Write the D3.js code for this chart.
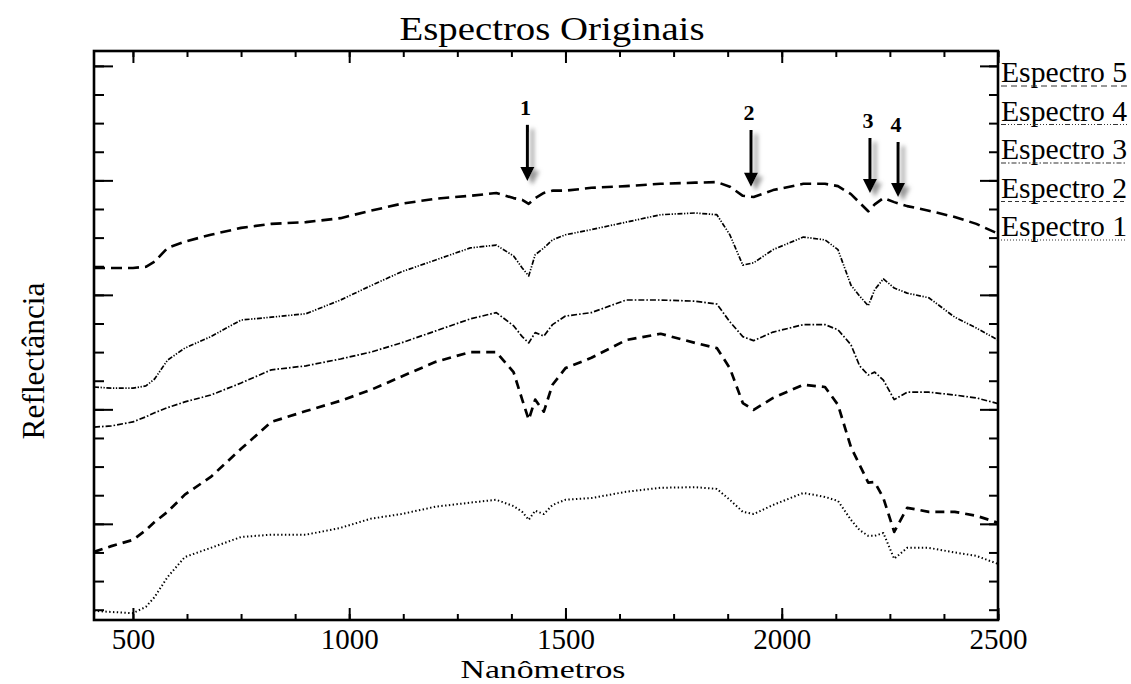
<!DOCTYPE html>
<html><head><meta charset="utf-8">
<script src="https://cdn.jsdelivr.net/npm/d3@7"></script>
<style>
body{margin:0;background:#fff}
svg{display:block}
svg text{font-family:"Liberation Serif","Times New Roman",Times,"DejaVu Serif",serif !important;fill:#000}
</style>
</head><body>
<svg id="chart" width="1131" height="684" font-family="Liberation Serif, Times New Roman, serif"></svg>
<script>
// ---- data ----
const wavelengths=[410,450,500,530,550,580,620,680,750,820,900,980,1050,1120,1200,1280,1340,1380,1400,1415,1430,1450,1470,1500,1560,1640,1720,1800,1850,1880,1910,1935,1980,2050,2100,2130,2160,2180,2200,2215,2235,2260,2290,2340,2400,2450,2500];
const espectro5=[64.7,64.7,64.7,64.9,65.8,68.2,69.3,70.5,71.7,72.4,72.7,73.4,74.7,75.9,76.8,77.3,77.8,76.9,76.6,75.9,76.9,77.8,78.2,78.2,78.7,79.0,79.4,79.6,79.7,78.9,77.3,77.1,78.3,79.4,79.4,79.0,77.6,76.1,74.6,75.8,76.9,76.2,75.5,74.7,73.6,72.4,70.7];
const espectro4=[43.9,43.7,43.7,44.1,45.3,48.6,50.7,52.7,55.6,56.1,56.7,59.1,61.6,64.0,66.1,68.2,68.7,66.8,64.7,63.3,67.0,68.2,69.6,70.5,71.4,72.7,74.0,74.3,74.0,70.5,65.2,65.6,67.9,70.1,69.6,67.9,61.7,59.8,58.1,60.9,62.8,61.2,60.3,59.5,56.1,54.2,52.1];
const espectro3=[36.9,37.1,37.8,38.7,39.4,40.3,41.3,42.5,44.6,46.9,47.6,48.8,50.0,51.6,53.7,55.8,56.9,54.6,52.7,51.6,53.4,52.8,54.8,56.3,56.9,59.1,59.1,58.9,58.4,55.3,52.7,52.0,53.5,54.8,54.8,53.9,51.3,47.6,46.0,46.5,45.1,41.7,43.0,43.0,42.5,42.0,41.0];
const espectro2=[15.1,16.1,17.2,18.9,20.3,22.1,25.1,28.2,33.1,37.8,39.7,41.5,43.4,45.7,48.3,50.0,50.0,46.5,41.7,38.2,41.7,39.6,44.3,47.2,49.0,52.1,53.2,51.6,50.7,47.2,41.1,39.9,42.0,44.3,43.9,40.8,33.4,30.3,27.2,27.3,24.5,18.6,22.8,22.1,22.1,21.4,20.2];
const espectro1=[4.8,4.6,4.4,5.5,7.2,10.7,14.2,15.8,17.7,18.1,18.1,19.3,20.9,21.7,23.0,23.7,24.2,23.1,22.1,20.7,22.3,21.7,23.3,24.2,24.5,25.6,26.3,26.4,26.1,24.2,22.1,21.7,23.3,25.4,24.7,24.0,20.7,18.9,17.9,17.9,18.4,13.9,15.8,15.8,15.0,14.4,13.0];
const seriesNames=["Espectro 5","Espectro 4","Espectro 3","Espectro 2","Espectro 1"];
const seriesValues=[espectro5,espectro4,espectro3,espectro2,espectro1];
const xMajorTicks=[500,1000,1500,2000,2500];
const xTickLabels=["500","1000","1500","2000","2500"];
const arrowLabels=["1","2","3","4"];
const arrowWavelengths=[1412,1929,2204,2269];
const arrowTips=[79.9,78.9,77.8,77.1];
const arrowTails=[89.7,88.8,87.4,86.7];
const titleText="Espectros Originais";
const xLabelText="Nanômetros";
const yLabelText="Reflectância";

// ---- styles ----
const FONT="Liberation Serif, Times New Roman, Times, DejaVu Serif, serif";
const lineStyles=[
  {w:2.6,dash:"11,6"},
  {w:1.7,dash:"5,1.6,1.3,1.6,1.3,1.6"},
  {w:1.7,dash:"6,2,1.6,2"},
  {w:2.7,dash:"9,6"},
  {w:2.0,dash:"1.4,2.4"}
];
const legendStyles=["6,4","5,2,1,2,1,2,1,2","5,2,1.5,2","4,3","1,2"];

const svg=d3.select("#chart");
const L=94,R=998,T=51,B=620;
const x=d3.scaleLinear().domain([410,2500]).range([L,R]);
const y=d3.scaleLinear().domain([3.2,102.6]).range([B,T]);

// drop shadow for arrows
const defs=svg.append("defs");
const f=defs.append("filter").attr("id","sh").attr("x","-100%").attr("y","-50%").attr("width","300%").attr("height","200%");
f.append("feDropShadow").attr("dx",5).attr("dy",4).attr("stdDeviation",2.2).attr("flood-color","#777").attr("flood-opacity",0.75);

// series
const line=d3.line().x((d,i)=>x(wavelengths[i])).y(d=>y(d));
svg.append("g").selectAll("path").data(seriesValues).join("path")
  .attr("d",d=>line(d)).attr("fill","none").attr("stroke","#000")
  .attr("stroke-width",(d,i)=>lineStyles[i].w)
  .attr("stroke-dasharray",(d,i)=>lineStyles[i].dash)
  .attr("stroke-linejoin","round");

// axes ticks (inward) via d3 axes
const xMinor=d3.range(500,2501,125);
const yMinor=d3.range(5,101,5);
const yMajor=yMinor.filter(v=>v%20===0);
function clean(g){g.select(".domain").remove();g.attr("font-family",FONT);g.selectAll("line").attr("stroke","#000").attr("stroke-width",2);}
svg.append("g").attr("transform",`translate(0,${B})`).call(d3.axisBottom(x).tickValues(xMinor).tickSize(-6).tickFormat("")).call(clean);
svg.append("g").attr("transform",`translate(0,${T})`).call(d3.axisTop(x).tickValues(xMinor).tickSize(-6).tickFormat("")).call(clean);
const xb=svg.append("g").attr("transform",`translate(0,${B})`).call(d3.axisBottom(x).tickValues(xMajorTicks).tickSize(-12).tickFormat((d,i)=>xTickLabels[i])).call(clean);
xb.selectAll("text").attr("y",29).attr("dy",0).attr("font-size",29).attr("font-family",FONT).attr("fill","#000");
svg.append("g").attr("transform",`translate(0,${T})`).call(d3.axisTop(x).tickValues(xMajorTicks).tickSize(-12).tickFormat("")).call(clean);
svg.append("g").attr("transform",`translate(${L},0)`).call(d3.axisLeft(y).tickValues(yMinor).tickSize(-10).tickFormat("")).call(clean);
svg.append("g").attr("transform",`translate(${L},0)`).call(d3.axisLeft(y).tickValues(yMajor).tickSize(-19).tickFormat("")).call(clean);
svg.append("g").attr("transform",`translate(${R},0)`).call(d3.axisRight(y).tickValues(yMinor).tickSize(-9).tickFormat("")).call(clean);
svg.append("g").attr("transform",`translate(${R},0)`).call(d3.axisRight(y).tickValues(yMajor).tickSize(-18).tickFormat("")).call(clean);

// frame
svg.append("rect").attr("x",L).attr("y",T).attr("width",R-L).attr("height",B-T)
  .attr("fill","none").attr("stroke","#000").attr("stroke-width",2.6);

// arrows
const ag=svg.append("g").attr("filter","url(#sh)");
arrowWavelengths.forEach((w,i)=>{
  const ax=x(w), tip=y(arrowTips[i]), tail=y(arrowTails[i]);
  ag.append("line").attr("x1",ax).attr("x2",ax).attr("y1",tail).attr("y2",tip-10)
    .attr("stroke","#000").attr("stroke-width",3);
  ag.append("path").attr("d",`M${ax-7},${tip-14}L${ax+7},${tip-14}L${ax},${tip}Z`).attr("fill","#000");
});
svg.append("g").selectAll("text").data(arrowLabels).join("text")
  .attr("x",(d,i)=>x(arrowWavelengths[i])-2).attr("y",(d,i)=>y(arrowTails[i])-10)
  .attr("text-anchor","middle").attr("font-size",22).attr("font-weight","bold").attr("font-family",FONT).text(d=>d);

// legend
const lg=svg.append("g");
seriesNames.forEach((n,i)=>{
  const by=82+38.5*i;
  lg.append("text").attr("x",1001).attr("y",by).attr("font-size",29).attr("font-family",FONT)
    .attr("textLength",126).attr("lengthAdjust","spacingAndGlyphs").text(n);
  lg.append("line").attr("x1",1001).attr("x2",1127).attr("y1",by+4).attr("y2",by+4)
    .attr("stroke","#333").attr("stroke-width",1.1).attr("stroke-dasharray",legendStyles[i]);
});

// titles
svg.append("text").attr("x",552).attr("y",40).attr("text-anchor","middle").attr("font-size",34).attr("font-family",FONT)
  .attr("textLength",305).attr("lengthAdjust","spacingAndGlyphs").text(titleText);
svg.append("text").attr("x",543).attr("y",678).attr("text-anchor","middle").attr("font-size",26).attr("font-family",FONT)
  .attr("textLength",165).attr("lengthAdjust","spacingAndGlyphs").text(xLabelText);
svg.append("text").attr("transform","translate(44,361) rotate(-90)").attr("text-anchor","middle").attr("font-size",31).attr("font-family",FONT)
  .attr("textLength",157).attr("lengthAdjust","spacingAndGlyphs").text(yLabelText);
</script>
</body></html>
